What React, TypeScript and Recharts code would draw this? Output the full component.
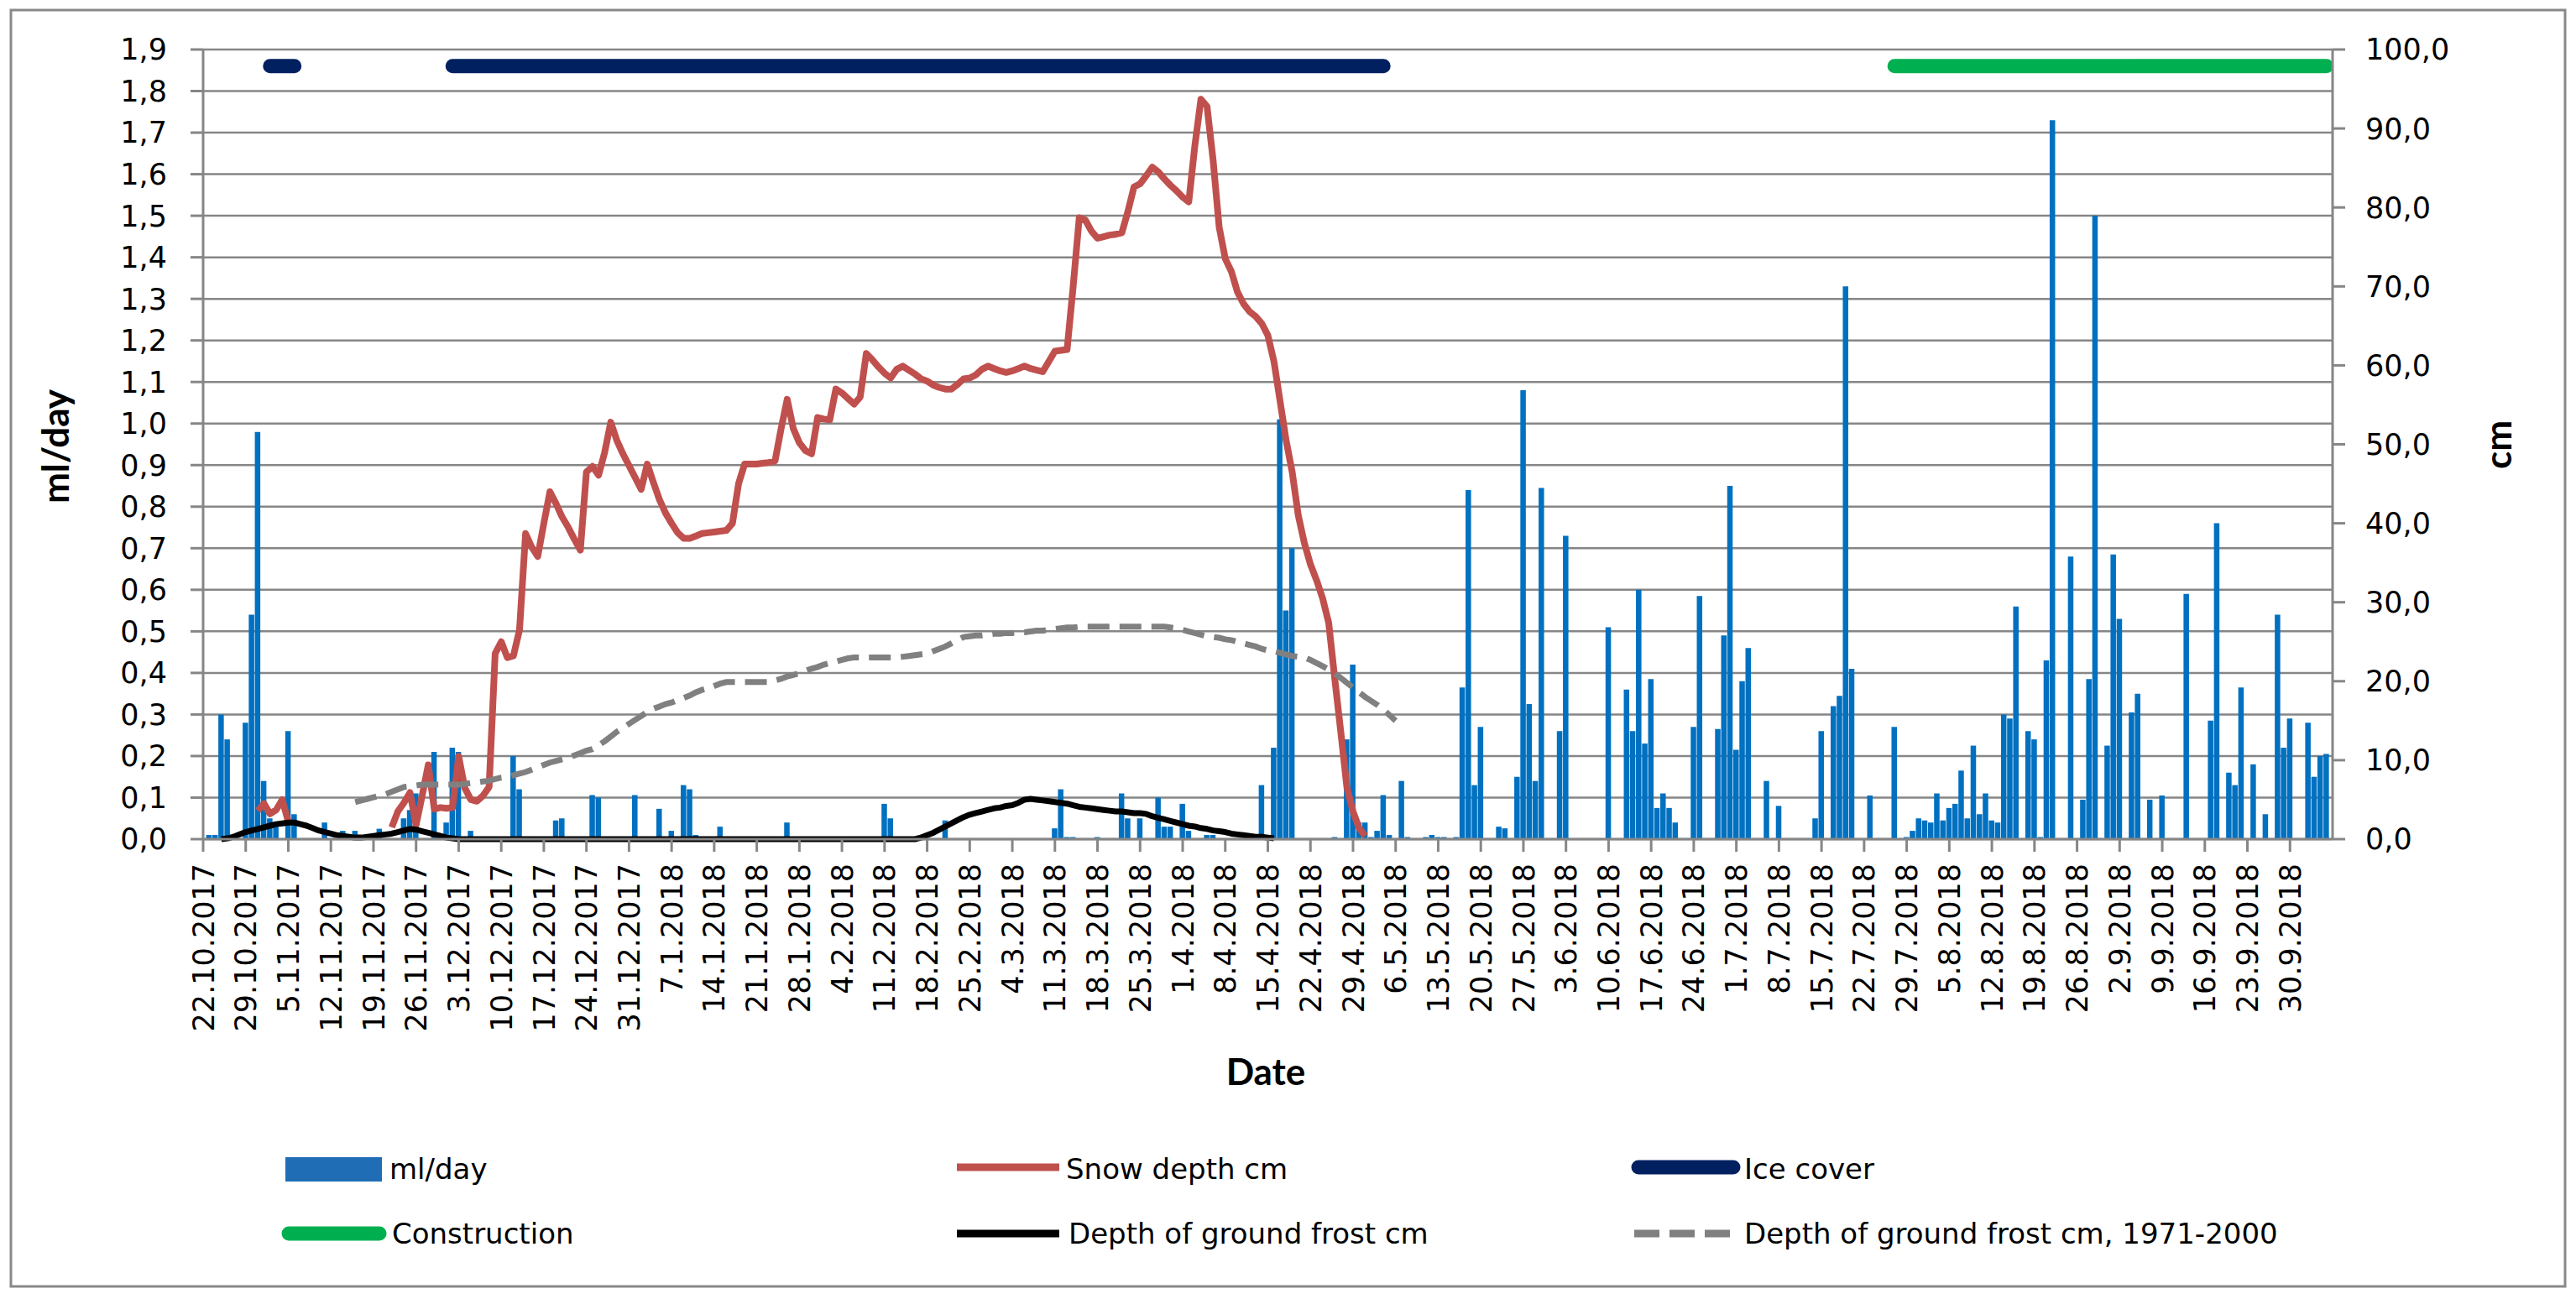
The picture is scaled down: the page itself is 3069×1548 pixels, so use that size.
import React from 'react';
import { ComposedChart, Bar, Line, XAxis, YAxis, CartesianGrid } from 'recharts';

// ---------------- data ----------------
const LAST_DAY = 350; // 22.10.2017 = day 0 ... 7.10.2018 = day 350

const tickDays = [0, 7, 14, 21, 28, 35, 42, 49, 56, 63, 70, 77, 84, 91, 98, 105, 112, 119, 126, 133, 140, 147, 154, 161, 168, 175, 182, 189, 196, 203, 210, 217, 224, 231, 238, 245, 252, 259, 266, 273, 280, 287, 294, 301, 308, 315, 322, 329, 336, 343];
const tickLabels = ['22.10.2017', '29.10.2017', '5.11.2017', '12.11.2017', '19.11.2017', '26.11.2017', '3.12.2017', '10.12.2017', '17.12.2017', '24.12.2017', '31.12.2017', '7.1.2018', '14.1.2018', '21.1.2018', '28.1.2018', '4.2.2018', '11.2.2018', '18.2.2018', '25.2.2018', '4.3.2018', '11.3.2018', '18.3.2018', '25.3.2018', '1.4.2018', '8.4.2018', '15.4.2018', '22.4.2018', '29.4.2018', '6.5.2018', '13.5.2018', '20.5.2018', '27.5.2018', '3.6.2018', '10.6.2018', '17.6.2018', '24.6.2018', '1.7.2018', '8.7.2018', '15.7.2018', '22.7.2018', '29.7.2018', '5.8.2018', '12.8.2018', '19.8.2018', '26.8.2018', '2.9.2018', '9.9.2018', '16.9.2018', '23.9.2018', '30.9.2018'];

const leftTicks = [0, 0.1, 0.2, 0.3, 0.4, 0.5, 0.6, 0.7, 0.8, 0.9, 1.0, 1.1, 1.2, 1.3, 1.4, 1.5, 1.6, 1.7, 1.8, 1.9];
const rightTicks = [0, 10, 20, 30, 40, 50, 60, 70, 80, 90, 100];

// ml/day bars: [day, value]
const mlPerDay: [number, number][] = [
  [1, 0.01], [2, 0.01], [3, 0.30], [4, 0.24], [7, 0.28], [8, 0.54], [9, 0.98], [10, 0.14], [11, 0.05], [12, 0.03],
  [14, 0.26], [15, 0.06], [20, 0.04], [23, 0.02], [25, 0.02], [29, 0.025], [33, 0.05], [34, 0.07], [35, 0.11], [38, 0.21],
  [40, 0.04], [41, 0.22], [42, 0.21], [44, 0.02], [51, 0.20], [52, 0.12], [58, 0.045], [59, 0.05], [64, 0.106], [65, 0.10],
  [71, 0.106], [75, 0.073], [77, 0.02], [79, 0.13], [80, 0.12], [81, 0.01], [85, 0.03], [96, 0.04], [112, 0.085], [113, 0.05],
  [122, 0.045], [140, 0.026], [141, 0.12], [142, 0.005], [143, 0.005], [147, 0.005], [151, 0.11], [152, 0.05], [154, 0.05], [157, 0.10],
  [158, 0.03], [159, 0.03], [161, 0.085], [162, 0.02], [165, 0.01], [166, 0.01], [174, 0.13], [176, 0.22], [177, 1.01], [178, 0.55],
  [179, 0.70], [186, 0.005], [188, 0.24], [189, 0.42], [190, 0.04], [191, 0.04], [192, 0.005], [193, 0.02], [194, 0.106], [195, 0.01],
  [197, 0.14], [198, 0.005], [201, 0.005], [202, 0.01], [203, 0.005], [204, 0.005], [206, 0.005], [207, 0.365], [208, 0.84], [209, 0.13],
  [210, 0.27], [213, 0.03], [214, 0.026], [216, 0.15], [217, 1.08], [218, 0.325], [219, 0.14], [220, 0.845], [223, 0.26], [224, 0.73],
  [231, 0.51], [234, 0.36], [235, 0.26], [236, 0.60], [237, 0.23], [238, 0.385], [239, 0.075], [240, 0.11], [241, 0.075], [242, 0.04],
  [245, 0.27], [246, 0.585], [249, 0.265], [250, 0.49], [251, 0.85], [252, 0.215], [253, 0.38], [254, 0.46], [257, 0.14], [259, 0.08],
  [265, 0.05], [266, 0.26], [268, 0.32], [269, 0.345], [270, 1.33], [271, 0.41], [274, 0.105], [278, 0.27], [280, 0.005], [281, 0.02],
  [282, 0.05], [283, 0.045], [284, 0.04], [285, 0.11], [286, 0.045], [287, 0.075], [288, 0.085], [289, 0.165], [290, 0.05], [291, 0.225],
  [292, 0.06], [293, 0.11], [294, 0.045], [295, 0.04], [296, 0.30], [297, 0.29], [298, 0.56], [300, 0.26], [301, 0.24], [302, 0.005],
  [303, 0.43], [304, 1.73], [307, 0.68], [309, 0.095], [310, 0.385], [311, 1.50], [313, 0.225], [314, 0.685], [315, 0.53], [317, 0.305],
  [318, 0.35], [320, 0.095], [322, 0.105], [326, 0.59], [330, 0.285], [331, 0.76], [333, 0.16], [334, 0.13], [335, 0.365], [337, 0.18],
  [339, 0.06], [341, 0.54], [342, 0.22], [343, 0.29], [346, 0.28], [347, 0.15], [348, 0.20], [349, 0.205],
];

// Snow depth cm, daily from day 9
const snowFirstDay = 9;
const snowDepth: (number | null)[] = [
  3.6, 4.5, 3.2, 3.7, 5.0, 2.2, null, null, null, null, // 9-18
  null, null, null, null, null, null, null, null, null, null, // 19-28
  null, null, 1.5, 3.5, 4.6, 5.9, 1.8, 5.5, 9.4, 3.8, // 29-38
  4.0, 3.9, 4.0, 10.5, 6.5, 5.0, 4.8, 5.5, 6.6, 23.5, // 39-48
  25.0, 23.0, 23.2, 26.5, 38.7, 37.0, 35.8, 40.0, 44.0, 42.5, // 49-58
  40.8, 39.5, 38.0, 36.6, 46.5, 47.2, 46.1, 49.0, 52.8, 50.5, // 59-68
  48.8, 47.3, 45.8, 44.3, 47.5, 45.2, 43.0, 41.3, 40.0, 38.8, // 69-78
  38.1, 38.1, 38.4, 38.7, 38.8, 38.9, 39.0, 39.1, 40.0, 45.0, // 79-88
  47.5, 47.5, 47.5, 47.6, 47.7, 47.9, 52.0, 55.7, 52.0, 50.2, // 89-98
  49.2, 48.8, 53.4, 53.2, 53.1, 57.0, 56.5, 55.8, 55.1, 56.0, // 99-108
  61.5, 60.7, 59.8, 59.0, 58.4, 59.5, 59.9, 59.4, 58.9, 58.3, // 109-118
  58.0, 57.5, 57.2, 57.0, 57.0, 57.6, 58.3, 58.4, 58.8, 59.5, // 119-128
  59.9, 59.6, 59.3, 59.1, 59.3, 59.6, 59.9, 59.6, 59.4, 59.2, // 129-138
  60.5, 61.8, 61.9, 62.0, 70.0, 78.7, 78.4, 77.0, 76.1, 76.3, // 139-148
  76.5, 76.6, 76.8, 79.5, 82.6, 83.0, 84.0, 85.1, 84.5, 83.6, // 149-158
  82.8, 82.1, 81.3, 80.7, 87.8, 93.7, 92.8, 86.0, 77.5, 73.5, // 159-168
  71.9, 69.3, 67.8, 66.8, 66.2, 65.3, 63.8, 60.5, 55.5, 50.5, // 169-178
  46.5, 41.0, 37.5, 34.8, 32.8, 30.5, 27.4, 20.3, 13.5, 6.5, // 179-188
  3.5, 1.4, 0.4, // 189-191
];

// Depth of ground frost cm, daily from day 3
const frostFirstDay = 3;
const frostDepth: number[] = [
  0, 0.1, 0.3, 0.6, 0.9, 1.1, 1.3, 1.5, 1.7, 1.9, // 3-12
  2.0, 2.1, 2.1, 1.9, 1.7, 1.4, 1.1, 0.9, 0.7, 0.5, // 13-22
  0.4, 0.3, 0.2, 0.2, 0.3, 0.4, 0.5, 0.6, 0.7, 0.9, // 23-32
  1.1, 1.3, 1.2, 1.0, 0.8, 0.6, 0.4, 0.2, 0.1, 0, // 33-42
  0, 0, 0, 0, 0, 0, 0, 0, 0, 0, // 43-52
  0, 0, 0, 0, 0, 0, 0, 0, 0, 0, // 53-62
  0, 0, 0, 0, 0, 0, 0, 0, 0, 0, // 63-72
  0, 0, 0, 0, 0, 0, 0, 0, 0, 0, // 73-82
  0, 0, 0, 0, 0, 0, 0, 0, 0, 0, // 83-92
  0, 0, 0, 0, 0, 0, 0, 0, 0, 0, // 93-102
  0, 0, 0, 0, 0, 0, 0, 0, 0, 0, // 103-112
  0, 0, 0, 0, 0, 0.2, 0.5, 0.8, 1.2, 1.6, // 113-122
  2.0, 2.4, 2.8, 3.1, 3.3, 3.5, 3.7, 3.9, 4.0, 4.2, // 123-132
  4.3, 4.6, 5.0, 5.1, 5.0, 4.9, 4.8, 4.7, 4.6, 4.5, // 133-142
  4.3, 4.1, 4.0, 3.9, 3.8, 3.7, 3.6, 3.5, 3.5, 3.4, // 143-152
  3.3, 3.3, 3.2, 2.9, 2.7, 2.5, 2.3, 2.1, 1.9, 1.7, // 153-162
  1.6, 1.4, 1.3, 1.1, 1.0, 0.9, 0.7, 0.6, 0.5, 0.4, // 163-172
  0.3, 0.3, 0.2, 0.1, // 173-176
];

// Depth of ground frost cm, 1971-2000, daily from day 25
const normalFirstDay = 25;
const frostNormal: number[] = [
  4.7, 4.9, 5.1, 5.3, 5.5, 5.7, 6.0, 6.3, 6.6, 6.7, // 25-34
  6.8, 6.9, 6.9, 6.9, 6.9, 6.9, 6.9, 6.9, 7.0, 7.1, // 35-44
  7.2, 7.3, 7.4, 7.6, 7.8, 7.9, 8.1, 8.3, 8.5, 8.8, // 45-54
  9.1, 9.4, 9.7, 9.9, 10.1, 10.3, 10.6, 10.9, 11.2, 11.4, // 55-64
  11.9, 12.4, 13.0, 13.6, 14.1, 14.6, 15.1, 15.6, 16.1, 16.5, // 65-74
  16.8, 17.1, 17.3, 17.6, 17.9, 18.2, 18.6, 18.9, 19.1, 19.4, // 75-84
  19.7, 19.9, 19.9, 19.9, 19.9, 19.9, 19.9, 19.9, 19.9, 20.1, // 85-94
  20.3, 20.6, 20.8, 21.0, 21.3, 21.6, 21.8, 22.1, 22.3, 22.5, // 95-104
  22.7, 22.9, 23.0, 23.0, 23.0, 23.0, 23.0, 23.0, 23.0, 23.0, // 105-114
  23.1, 23.2, 23.3, 23.4, 23.5, 23.8, 24.1, 24.4, 24.8, 25.2, // 115-124
  25.6, 25.7, 25.8, 25.8, 25.9, 26.0, 26.0, 26.1, 26.1, 26.2, // 125-134
  26.2, 26.3, 26.4, 26.4, 26.5, 26.6, 26.7, 26.8, 26.8, 26.9, // 135-144
  26.9, 26.9, 26.9, 26.9, 26.9, 26.9, 26.9, 26.9, 26.9, 26.9, // 145-154
  26.9, 26.9, 26.9, 26.9, 26.8, 26.7, 26.5, 26.3, 26.1, 25.9, // 155-164
  25.7, 25.6, 25.5, 25.3, 25.2, 25.0, 24.8, 24.6, 24.4, 24.1, // 165-174
  23.9, 23.8, 23.6, 23.4, 23.2, 23.1, 23.0, 22.7, 22.3, 21.9, // 175-184
  21.5, 21.0, 20.4, 19.8, 19.2, 18.6, 18.0, 17.5, 17.0, 16.4, // 185-194
  15.7, 15.0, // 195-196
];

// Ice cover and construction periods: [first day, last day], drawn at a fixed level (ml/day axis)
const iceCoverPeriods: [number, number][] = [[11, 15], [41, 194]];
const constructionPeriods: [number, number][] = [[278, 349]];
const BAR_LEVEL = 1.86;

// ---------------- table ----------------
const mlMap = new Map<number, number>(mlPerDay);
const inPeriods = (d: number, periods: [number, number][]) => periods.some(([a, b]) => d >= a && d <= b);
const pick = (arr: (number | null)[], first: number, d: number) => {
  const v = arr[d - first];
  return v === undefined ? null : v;
};

const rows = Array.from({ length: LAST_DAY + 1 }, (_, d) => ({
  idx: d,
  ml: mlMap.has(d) ? mlMap.get(d)! : null,
  snow: pick(snowDepth, snowFirstDay, d),
  ice: inPeriods(d, iceCoverPeriods) ? BAR_LEVEL : null,
  construction: inPeriods(d, constructionPeriods) ? BAR_LEVEL : null,
  frost: pick(frostDepth, frostFirstDay, d),
  normal: pick(frostNormal, normalFirstDay, d),
}));

// ---------------- styles ----------------
const W = 3069;
const H = 1548;
const FONT = 'DejaVu Sans';
const TITLE_FONT = 'Lato';
const AXIS = '#868686';
const C_BAR = '#0070C0';
const C_SNOW = '#C0504D';
const C_ICE = '#002060';
const C_CONS = '#00B050';
const C_FROST = '#000000';
const C_NORMAL = '#808080';

const comma = (v: number) => v.toFixed(1).replace('.', ',');

const renderXTick = (props: any) => {
  const { x, y, payload } = props;
  const i = tickDays.indexOf(payload.value);
  const label = i >= 0 ? tickLabels[i] : '';
  return (
    <text
      x={x}
      y={y}
      transform={`rotate(-90 ${x} ${y})`}
      textAnchor="end"
      dy="0.36em"
      fontSize={35}
      fontFamily={FONT}
      fill="#000"
    >
      {label}
    </text>
  );
};

const Legend = () => (
  <svg width={W} height={H} style={{ position: 'absolute', left: 0, top: 0, pointerEvents: 'none' }}>
    <rect x={13} y={12} width={3043} height={1521} fill="none" stroke="#898989" strokeWidth={3} />
    {/* axis titles */}
    <text x={65} y={532} transform="rotate(-90 65 532)" textAnchor="middle" dominantBaseline="central" fontFamily={TITLE_FONT} fontWeight={700} fontSize={44} fill="#000">ml/day</text>
    <text x={2975} y={530} transform="rotate(-90 2975 530)" textAnchor="middle" dominantBaseline="central" fontFamily={TITLE_FONT} fontWeight={700} fontSize={44} fill="#000">cm</text>
    <text x={1508} y={1276} textAnchor="middle" dominantBaseline="central" fontFamily={TITLE_FONT} fontWeight={700} fontSize={44} fill="#000">Date</text>
    {/* legend row 1 */}
    <rect x={340} y={1379} width={115} height={29} fill="#1F6EB5" />
    <text x={464} y={1393} dominantBaseline="central" fontFamily={FONT} fontSize={34} fill="#000">ml/day</text>
    <line x1={1140} y1={1391} x2={1262} y2={1391} stroke={C_SNOW} strokeWidth={9} />
    <text x={1270} y={1393} dominantBaseline="central" fontFamily={FONT} fontSize={34} fill="#000">Snow depth cm</text>
    <line x1={1952} y1={1391} x2={2065} y2={1391} stroke={C_ICE} strokeWidth={17} strokeLinecap="round" />
    <text x={2078} y={1393} dominantBaseline="central" fontFamily={FONT} fontSize={34} fill="#000">Ice cover</text>
    {/* legend row 2 */}
    <line x1={344} y1={1470} x2={452} y2={1470} stroke={C_CONS} strokeWidth={17} strokeLinecap="round" />
    <text x={467} y={1470} dominantBaseline="central" fontFamily={FONT} fontSize={34} fill="#000">Construction</text>
    <line x1={1140} y1={1470} x2={1262} y2={1470} stroke={C_FROST} strokeWidth={9} />
    <text x={1273} y={1470} dominantBaseline="central" fontFamily={FONT} fontSize={34} fill="#000">Depth of ground frost cm</text>
    <line x1={1947} y1={1470} x2={2061} y2={1470} stroke={C_NORMAL} strokeWidth={9} strokeDasharray="30 12" />
    <text x={2078} y={1470} dominantBaseline="central" fontFamily={FONT} fontSize={34} fill="#000">Depth of ground frost cm, 1971-2000</text>
  </svg>
);

export default function App() {
  return (
    <div style={{ position: 'absolute', left: 0, top: 0, width: W, height: H, background: '#fff' }}>
      <ComposedChart width={W} height={H} data={rows} margin={{ top: 59, right: 0, bottom: 248, left: 0 }}>
        <CartesianGrid vertical={false} yAxisId="left" stroke={AXIS} strokeWidth={2.5} />
        <XAxis
          dataKey="idx"
          type="number"
          domain={[0, LAST_DAY]}
          ticks={tickDays}
          interval={0}
          height={300}
          tickSize={15}
          tickMargin={14}
          tick={renderXTick}
          axisLine={{ stroke: AXIS, strokeWidth: 3 }}
          tickLine={{ stroke: AXIS, strokeWidth: 3 }}
        />
        <YAxis
          yAxisId="left"
          orientation="left"
          width={242}
          domain={[0, 1.9]}
          ticks={leftTicks}
          interval={0}
          tickFormatter={comma}
          tickSize={15}
          tickMargin={28}
          tick={{ fill: '#000', fontSize: 35, fontFamily: FONT }}
          axisLine={{ stroke: AXIS, strokeWidth: 3 }}
          tickLine={{ stroke: AXIS, strokeWidth: 3 }}
        />
        <YAxis
          yAxisId="right"
          orientation="right"
          width={290}
          domain={[0, 100]}
          ticks={rightTicks}
          interval={0}
          tickFormatter={comma}
          tickSize={15}
          tickMargin={24}
          tick={{ fill: '#000', fontSize: 35, fontFamily: FONT, textAnchor: 'start' }}
          axisLine={{ stroke: AXIS, strokeWidth: 3 }}
          tickLine={{ stroke: AXIS, strokeWidth: 3 }}
        />
        <Bar yAxisId="left" dataKey="ml" fill={C_BAR} barSize={8} isAnimationActive={false} />
        <Line yAxisId="right" dataKey="snow" stroke={C_SNOW} strokeWidth={8} dot={false} activeDot={false} strokeLinejoin="round" isAnimationActive={false} />
        <Line yAxisId="left" dataKey="ice" stroke={C_ICE} strokeWidth={17} strokeLinecap="round" dot={false} activeDot={false} isAnimationActive={false} />
        <Line yAxisId="left" dataKey="construction" stroke={C_CONS} strokeWidth={17} strokeLinecap="round" dot={false} activeDot={false} isAnimationActive={false} />
        <Line yAxisId="right" dataKey="frost" stroke={C_FROST} strokeWidth={7} dot={false} activeDot={false} strokeLinejoin="round" isAnimationActive={false} />
        <Line yAxisId="right" dataKey="normal" stroke={C_NORMAL} strokeWidth={7} strokeDasharray="26 12" dot={false} activeDot={false} isAnimationActive={false} />
      </ComposedChart>
      <Legend />
    </div>
  );
}
